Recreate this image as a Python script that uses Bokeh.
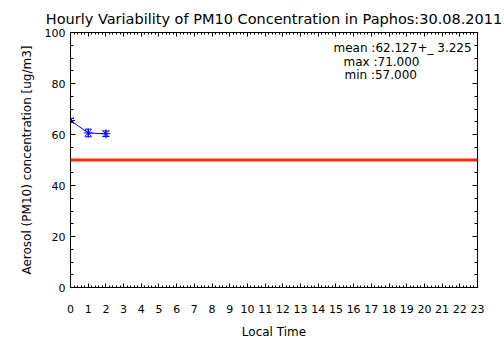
from bokeh.plotting import figure
from bokeh.models import (Range1d, LinearAxis, FixedTicker, Span, Label, Whisker,
                          ColumnDataSource, CustomJSTickFormatter, TeeHead)
from bokeh.embed import file_html
from bokeh.resources import INLINE

# Data
hours = [0, 1, 2]
pm10 = [65.5, 60.6, 60.3]
pm10_err = [0.8, 1.5, 1.1]
threshold = 50
x_ticks = list(range(0, 24))
y_ticks = [0, 20, 40, 60, 80, 100]
stats_lines = ["mean :62.127+_ 3.225", "max :71.000", "min :57.000"]
title_text = "Hourly Variability of PM10 Concentration in Paphos:30.08.2011"

FONT = "DejaVu Sans"

p = figure(width=504, height=361, output_backend="svg", toolbar_location=None,
           x_range=Range1d(0, 23), y_range=Range1d(0, 100),
           min_border_left=70, min_border_right=27, min_border_top=32, min_border_bottom=74,
           x_axis_label="Local Time", y_axis_label="Aerosol (PM10) concentration [ug/m3]")

p.title.text = title_text
p.title.align = "center"
p.title.text_font = FONT
p.title.text_font_size = "14.5px"
p.title.text_font_style = "normal"
p.title.text_color = "black"
p.title.offset = 0
p.title.standoff = 11

p.grid.visible = False
p.outline_line_color = "black"
p.outline_line_width = 1
p.background_fill_color = "white"
p.border_fill_color = "white"

xminor = [i / 5 for i in range(0, 23 * 5 + 1)]
yminor = list(range(0, 101, 5))

def style_axis(ax, ticks, minor, labels=True):
    ax.ticker = FixedTicker(ticks=ticks, minor_ticks=minor)
    ax.major_tick_in = 5
    ax.major_tick_out = 0
    ax.minor_tick_in = 2
    ax.minor_tick_out = 0
    ax.axis_line_color = "black"
    ax.major_tick_line_color = "black"
    ax.minor_tick_line_color = "black"
    ax.major_label_text_font = FONT
    ax.major_label_text_font_size = "11px"
    ax.major_label_text_color = "black"
    ax.axis_label_text_font = FONT
    ax.axis_label_text_font_size = "12px"
    ax.axis_label_text_font_style = "normal"
    ax.axis_label_text_color = "black"
    if not labels:
        ax.formatter = CustomJSTickFormatter(code="return ''")

xa = p.xaxis[0]
ya = p.yaxis[0]
style_axis(xa, x_ticks, xminor)
style_axis(ya, y_ticks, yminor)
ya.minor_tick_in = 3
xa.major_tick_in = 4
xa.major_label_standoff = 17
xa.axis_label_standoff = 9
ya.major_label_standoff = 5
ya.axis_label_standoff = 8

top = LinearAxis()
style_axis(top, x_ticks, xminor, labels=False)
top.major_tick_in = 4
p.add_layout(top, "above")
right = LinearAxis()
style_axis(right, y_ticks, yminor, labels=False)
right.minor_tick_in = 3
p.add_layout(right, "right")

# threshold line
p.add_layout(Span(location=threshold, dimension="width", line_color="#ff2a0a", line_width=3))

src = ColumnDataSource(dict(x=hours, y=pm10,
                            lo=[v - e for v, e in zip(pm10, pm10_err)],
                            hi=[v + e for v, e in zip(pm10, pm10_err)]))
p.line("x", "y", source=src, line_color="blue", line_width=1)
w = Whisker(base="x", lower="lo", upper="hi", source=src, line_color="blue", line_width=1,
            upper_head=TeeHead(size=7, line_color="blue"), lower_head=TeeHead(size=7, line_color="blue"))
p.add_layout(w)
p.scatter("x", "y", source=src, marker="asterisk", size=9, line_color="blue", line_width=1)

# stats text (screen units relative to the plot frame: x from left, y from bottom)
xs = [263, 273, 274]
ys = [240, 226, 213]
for t, x, y in zip(stats_lines, xs, ys):
    p.add_layout(Label(x=x, y=y, x_units="screen", y_units="screen", text=t,
                       text_font=FONT, text_font_size="12px", text_color="black",
                       text_baseline="middle", text_align="left"))

open("out.html", "w").write(file_html(p, INLINE))
